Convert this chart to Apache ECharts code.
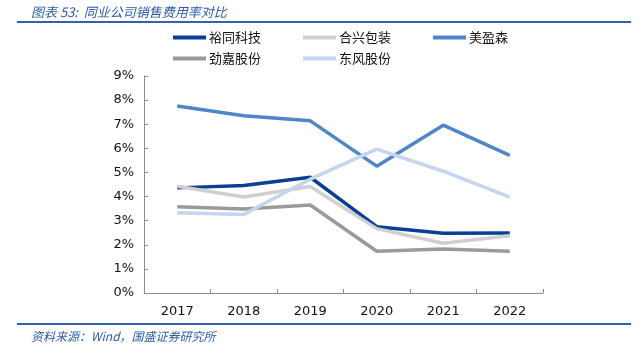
<!DOCTYPE html>
<html>
<head>
<meta charset="utf-8">
<script src="https://cdn.jsdelivr.net/npm/echarts@6/dist/echarts.min.js"></script>
<style>
  html, body { margin: 0; padding: 0; background: #fff; }
  #chart { width: 643px; height: 354px; }
</style>
</head>
<body>
<div id="chart"></div>
<script>
const years = ['2017', '2018', '2019', '2020', '2021', '2022'];
const yutong = [4.36, 4.46, 4.80, 2.75, 2.48, 2.49];
const hexing = [4.43, 3.98, 4.42, 2.67, 2.06, 2.37];
const meiyingsen = [7.76, 7.35, 7.14, 5.26, 6.96, 5.71];
const jinjia = [3.58, 3.48, 3.65, 1.73, 1.82, 1.73];
const dongfeng = [3.33, 3.26, 4.72, 5.97, 5.05, 3.98];

const cjk = '"Noto Sans CJK SC", sans-serif';
const latin = '"DejaVu Sans", Verdana, sans-serif';

const chart = echarts.init(document.getElementById('chart'));

// 图例顺序与原图一致
const seriesList = [
  { name: '裕同科技', data: yutong, color: '#0a3f96' },
  { name: '合兴包装', data: hexing, color: '#cfcfcf' },
  { name: '美盈森', data: meiyingsen, color: '#4f86c8' },
  { name: '劲嘉股份', data: jinjia, color: '#9a9a9a' },
  { name: '东风股份', data: dongfeng, color: '#c4d6ee' }
];

const legendItem = (name) => ({ name, icon: 'rect' });
const legendText = { fontFamily: cjk, fontSize: 13, color: '#111', padding: [0, 0, 0, -2] };

chart.setOption({
  animation: false,
  title: [
    {
      text: '图表 53:  同业公司销售费用率对比',
      left: 26, top: 1,
      textStyle: { fontFamily: cjk, fontSize: 13, fontStyle: 'italic', fontWeight: 'normal', color: '#2d5ca8' }
    },
    {
      text: '资料来源：Wind，国盛证券研究所',
      left: 26, top: 325,
      textStyle: { fontFamily: cjk, fontSize: 12, fontStyle: 'italic', fontWeight: 'normal', color: '#2d5ca8' }
    }
  ],
  graphic: [
    { type: 'rect', shape: { x: 17, y: 21, width: 614, height: 2 }, style: { fill: '#2f63b0' } },
    { type: 'rect', shape: { x: 17, y: 323, width: 614, height: 2 }, style: { fill: '#2f63b0' } }
  ],
  legend: [
    {
      data: seriesList.slice(0, 3).map(s => legendItem(s.name)),
      left: 168, top: 26, itemGap: 42,
      itemWidth: 33, itemHeight: 4,
      textStyle: legendText
    },
    {
      data: seriesList.slice(3).map(s => legendItem(s.name)),
      left: 168, top: 47, itemGap: 42,
      itemWidth: 33, itemHeight: 4,
      textStyle: legendText
    }
  ],
  grid: { left: 144, right: 100, top: 76, bottom: 61 },
  xAxis: {
    type: 'category',
    data: years,
    boundaryGap: true,
    axisLine: { lineStyle: { color: '#8c8c8c' } },
    axisTick: { show: true, inside: true, length: 4, lineStyle: { color: '#8c8c8c' } },
    axisLabel: { fontFamily: latin, fontSize: 13, color: '#111', margin: 12 }
  },
  yAxis: {
    type: 'value',
    min: 0, max: 9, interval: 1,
    axisLine: { show: true, lineStyle: { color: '#8c8c8c' } },
    axisTick: { show: true, inside: true, length: 4, lineStyle: { color: '#8c8c8c' } },
    splitLine: { show: false },
    axisLabel: {
      fontFamily: latin, fontSize: 13, color: '#111', margin: 10,
      formatter: v => v + '%'
    }
  },
  series: seriesList.map(s => ({
    name: s.name,
    type: 'line',
    data: s.data,
    symbol: 'none',
    lineStyle: { width: 3.5, color: s.color },
    itemStyle: { color: s.color }
  }))
});
</script>
</body>
</html>
